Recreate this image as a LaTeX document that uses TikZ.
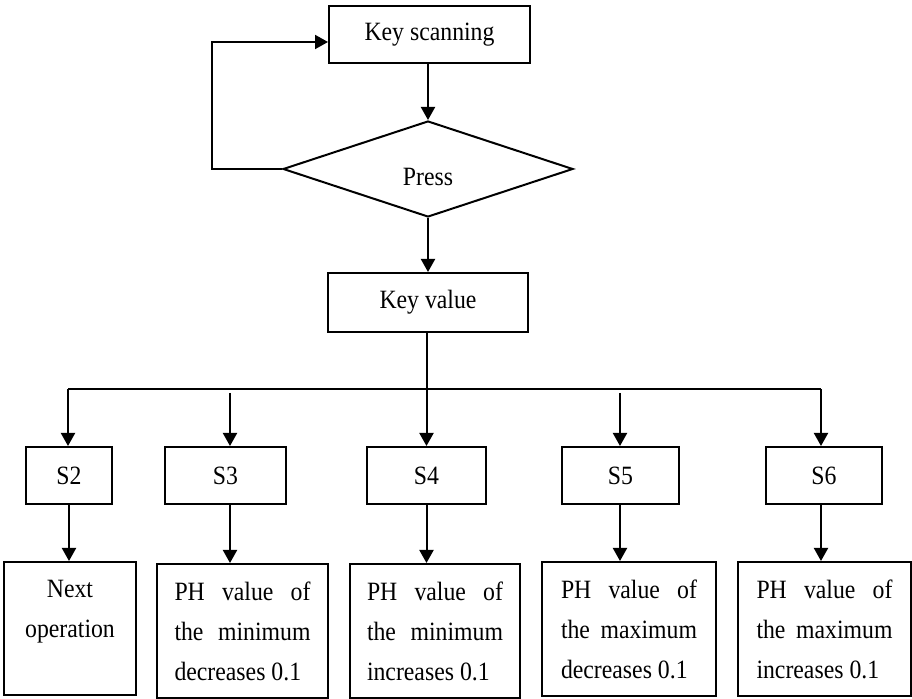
\documentclass[tikz,border=0pt]{standalone}
\usepackage{fontspec}
\setmainfont{Liberation Serif}[FakeStretch=0.9]
\usetikzlibrary{arrows.meta,shapes.geometric}
\tolerance=10000
\hyphenpenalty=10000
\begin{document}
\begin{tikzpicture}[x=0.5pt,y=-0.5pt,
  every node/.style={font=\fontsize{13.2}{20}\selectfont},
  box/.style={draw, line width=1pt, inner sep=0pt},
  sbox/.style={box, minimum height=28.5pt},
  outbox/.style={box, minimum height=67pt, align=justify, text width=68pt},
  decision/.style={draw, line width=1pt, diamond, aspect=3, inner sep=0pt,
    minimum width=145pt, minimum height=48pt},
  conn/.style={line width=1pt},
  arr/.style={conn, -{Triangle[length=6.5pt,width=7pt]}}]
\useasboundingbox (0,0) rectangle (912,699);

% top part
\node[box, minimum width=100.5pt, minimum height=28.5pt] (ks) at (429.5,34.5) {Key scanning};
\node[decision] (press) at (428,169) {};
\node (presstext) at (428,177) {Press};
\node[box, minimum width=100pt, minimum height=29.5pt] (kv) at (428,302.5) {Key value};

\coordinate (lp) at (212,42);
\draw[arr] (ks.south -| press.north) -- (press.north);
\draw[arr] (press.west) -| (lp) -- (lp -| ks.west);
\draw[arr] (press.south) -- (press.south |- kv.north);

% second row
\node[sbox, minimum width=43pt]   (s2) at (69,475.5)   {S2};
\node[sbox, minimum width=60.5pt] (s3) at (225.5,475.5) {S3};
\node[sbox, minimum width=59.5pt] (s4) at (426.5,475.5) {S4};
\node[sbox, minimum width=58.5pt] (s5) at (620.5,475.5) {S5};
\node[sbox, minimum width=58pt]   (s6) at (824,475.5)   {S6};

\coordinate (hl) at (68,389);
\coordinate (hr) at (821,389);
\coordinate (c3) at (230,393);
\coordinate (c5) at (620,393);

\draw[conn] (hl) -- (hr);
\draw[arr] (hl) -- (hl |- s2.north);
\draw[arr] (c3) -- (c3 |- s3.north);
\draw[arr] (kv.south -| s4.north) -- (s4.north);
\draw[arr] (c5) -- (c5 |- s5.north);
\draw[arr] (hr) -- (hr |- s6.north);

% bottom row
\node[box, minimum width=66pt, minimum height=66.5pt, align=center] (b2) at (70,628.5)
  {Next\\operation\\\mbox{}};
\node[outbox, minimum width=85.5pt] (b3) at (242.5,631)
  {PH value of the minimum decreases 0.1};
\node[outbox, minimum width=85pt] (b4) at (435,631)
  {PH value of the minimum increases 0.1};
\node[outbox, minimum width=87pt] (b5) at (629,629)
  {PH value of the maximum decreases 0.1};
\node[outbox, minimum width=86.5pt] (b6) at (824.5,629)
  {PH value of the maximum increases 0.1};

\draw[arr] (s2.south) -- (s2.south |- b2.north);
\draw[arr] (c3 |- s3.south) -- (c3 |- b3.north);
\draw[arr] (s4.south) -- (s4.south |- b4.north);
\draw[arr] (c5 |- s5.south) -- (c5 |- b5.north);
\draw[arr] (hr |- s6.south) -- (hr |- b6.north);
\end{tikzpicture}
\end{document}
